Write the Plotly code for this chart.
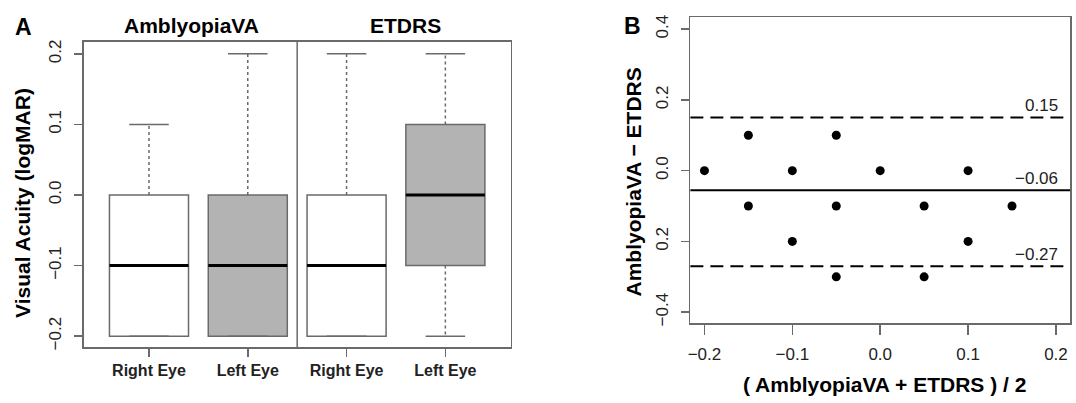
import plotly.graph_objects as go

# ---------------- data ----------------
# Panel A: box summaries (logMAR)
box_labels = ["Right Eye", "Left Eye", "Right Eye", "Left Eye"]
box_pos = [1, 2, 3, 4]
box_lower = [-0.2, -0.2, -0.2, -0.2]
box_q1 = [-0.2, -0.2, -0.2, -0.1]
box_median = [-0.1, -0.1, -0.1, 0.0]
box_q3 = [0.0, 0.0, 0.0, 0.1]
box_upper = [0.1, 0.2, 0.2, 0.2]
box_fill = ["#ffffff", "#b3b3b3", "#ffffff", "#b3b3b3"]
group_titles = ["AmblyopiaVA", "ETDRS"]

# Panel B: Bland-Altman
ba_mean = [-0.2, -0.15, -0.15, -0.1, -0.1, -0.05, -0.05, -0.05, 0.0, 0.05, 0.05, 0.1, 0.1, 0.15]
ba_diff = [0.0, 0.1, -0.1, 0.0, -0.2, 0.1, -0.1, -0.3, 0.0, -0.1, -0.3, 0.0, -0.2, -0.1]
bias = -0.055
loa_upper = 0.15
loa_lower = -0.27
line_labels = ["0.15", "−0.06", "−0.27"]

# ---------------- style ----------------
W, H = 1076, 403
FONT = "Liberation Sans, Arial, Helvetica, sans-serif"
FRAME = "#6a6a6a"
TICKC = "#222222"

def px(x):
    return x / W

def py(y):
    return 1 - y / H

fig = go.Figure()

# box bodies
fig.add_trace(go.Bar(
    x=box_pos,
    base=box_q1,
    y=[q3 - q1 for q1, q3 in zip(box_q1, box_q3)],
    width=0.8,
    marker=dict(color=box_fill, line=dict(color=FRAME, width=1.5)),
    xaxis="x", yaxis="y", showlegend=False, hoverinfo="skip",
))

# whiskers (dashed)
wx, wy = [], []
for p, lo, q1, q3, hi in zip(box_pos, box_lower, box_q1, box_q3, box_upper):
    if hi > q3:
        wx += [p, p, None]
        wy += [q3, hi, None]
    if lo < q1:
        wx += [p, p, None]
        wy += [q1, lo, None]
fig.add_trace(go.Scatter(x=wx, y=wy, mode="lines",
                         line=dict(color=FRAME, width=1.5, dash="3px,3px"),
                         xaxis="x", yaxis="y", showlegend=False, hoverinfo="skip"))

# staples
sx, sy = [], []
for p, lo, hi in zip(box_pos, box_lower, box_upper):
    sx += [p - 0.2, p + 0.2, None, p - 0.2, p + 0.2, None]
    sy += [hi, hi, None, lo, lo, None]
fig.add_trace(go.Scatter(x=sx, y=sy, mode="lines",
                         line=dict(color=FRAME, width=1.5),
                         xaxis="x", yaxis="y", showlegend=False, hoverinfo="skip"))

# medians
mx, my = [], []
for p, m in zip(box_pos, box_median):
    mx += [p - 0.4, p + 0.4, None]
    my += [m, m, None]
fig.add_trace(go.Scatter(x=mx, y=my, mode="lines",
                         line=dict(color="#000000", width=3),
                         xaxis="x", yaxis="y", showlegend=False, hoverinfo="skip"))

# Bland-Altman points
fig.add_trace(go.Scatter(x=ba_mean, y=ba_diff, mode="markers",
                         marker=dict(color="#000000", size=9),
                         xaxis="x2", yaxis="y2", showlegend=False, hoverinfo="skip"))

DASH = "13px,7px"
shapes = [
    # divider between groups
    dict(type="line", xref="x", yref="y domain", x0=2.5, x1=2.5, y0=0, y1=1,
         line=dict(color=FRAME, width=1.5)),
    dict(type="line", xref="x2 domain", yref="y2", x0=0, x1=1, y0=loa_upper, y1=loa_upper,
         line=dict(color="#000000", width=2, dash=DASH)),
    dict(type="line", xref="x2 domain", yref="y2", x0=0, x1=1, y0=bias, y1=bias,
         line=dict(color="#000000", width=2)),
    dict(type="line", xref="x2 domain", yref="y2", x0=0, x1=1, y0=loa_lower, y1=loa_lower,
         line=dict(color="#000000", width=2, dash=DASH)),
]

annotations = []
# group titles
for gx, t in zip([1.43, 3.6], group_titles):
    annotations.append(dict(x=gx, xref="x", y=py(22.5), yref="paper", text=t, showarrow=False,
                            font=dict(family=FONT, size=21, color="#000000", weight=700),
                            xanchor="center", yanchor="middle"))
# line labels
for val, t in zip([loa_upper, bias, loa_lower], line_labels):
    annotations.append(dict(x=0.205, xref="x2", y=val, yref="y2", text=t, showarrow=False,
                            font=dict(family=FONT, size=17, color=TICKC),
                            xanchor="right", yanchor="middle", yshift=12))
# axis titles
annotations.append(dict(x=px(20), y=py(203), xref="paper", yref="paper",
                        text="Visual Acuity (logMAR)", textangle=-90, showarrow=False,
                        font=dict(family=FONT, size=21, color="#000000", weight=700),
                        xanchor="center", yanchor="middle"))
annotations.append(dict(x=px(632), y=py(182), xref="paper", yref="paper",
                        text="AmblyopiaVA − ETDRS", textangle=-90, showarrow=False,
                        font=dict(family=FONT, size=21, color="#000000", weight=700),
                        xanchor="center", yanchor="middle"))
annotations.append(dict(x=px(884), y=py(387), xref="paper", yref="paper",
                        text="( AmblyopiaVA + ETDRS ) / 2", showarrow=False,
                        font=dict(family=FONT, size=21, color="#000000", weight=700),
                        xanchor="center", yanchor="middle"))
# panel letters
annotations.append(dict(x=px(21), y=py(24), xref="paper", yref="paper", text="A", showarrow=False,
                        font=dict(family=FONT, size=23, color="#000000", weight=700),
                        xanchor="center", yanchor="middle"))
annotations.append(dict(x=px(631), y=py(23), xref="paper", yref="paper", text="B", showarrow=False,
                        font=dict(family=FONT, size=23, color="#000000", weight=700),
                        xanchor="center", yanchor="middle"))

axis_common = dict(showline=True, mirror=True, linecolor=FRAME, linewidth=1.5,
                   showgrid=False, zeroline=False, ticks="outside", tickcolor=FRAME,
                   tickwidth=1.5, fixedrange=True)

fig.update_layout(
    width=W, height=H,
    margin=dict(l=0, r=0, t=0, b=0),
    paper_bgcolor="#ffffff", plot_bgcolor="#ffffff",
    showlegend=False,
    shapes=shapes,
    annotations=annotations,
    xaxis=dict(domain=[px(81), px(509)], range=[0.34, 4.66], anchor="y",
               tickvals=box_pos, ticktext=box_labels, ticklen=8,
               tickfont=dict(family=FONT, size=16, color=TICKC, weight=700), **axis_common),
    yaxis=dict(domain=[py(349.3), py(39.3)], range=[-0.2155, 0.2172], anchor="x",
               tickvals=[-0.2, -0.1, 0.0, 0.1, 0.2],
               ticktext=["−0.2", "−0.1", "0.0", "0.1", "0.2"], tickangle=-90, ticklen=8,
               ticklabelstandoff=6,
               tickfont=dict(family=FONT, size=17, color=TICKC), **axis_common),
    xaxis2=dict(domain=[px(689.3), px(1070)], range=[-0.216, 0.216], anchor="y2",
                tickvals=[-0.2, -0.1, 0.0, 0.1, 0.2],
                ticktext=["−0.2", "−0.1", "0.0", "0.1", "0.2"], ticklen=10,
                ticklabelstandoff=5,
                tickfont=dict(family=FONT, size=17, color=TICKC), **axis_common),
    yaxis2=dict(domain=[py(325), py(14.7)], range=[-0.431, 0.433], anchor="x2",
                tickvals=[-0.4, -0.2, 0.0, 0.2, 0.4],
                ticktext=["−0.4", "0.2", "0.0", "0.2", "0.4"], tickangle=-90, ticklen=8,
                ticklabelstandoff=6,
                tickfont=dict(family=FONT, size=17, color=TICKC), **axis_common),
)

fig.write_html(
    "out.html",
    config={"displayModeBar": False, "staticPlot": True},
    post_script="document.body.style.margin='0';document.body.style.overflow='hidden';",
)
